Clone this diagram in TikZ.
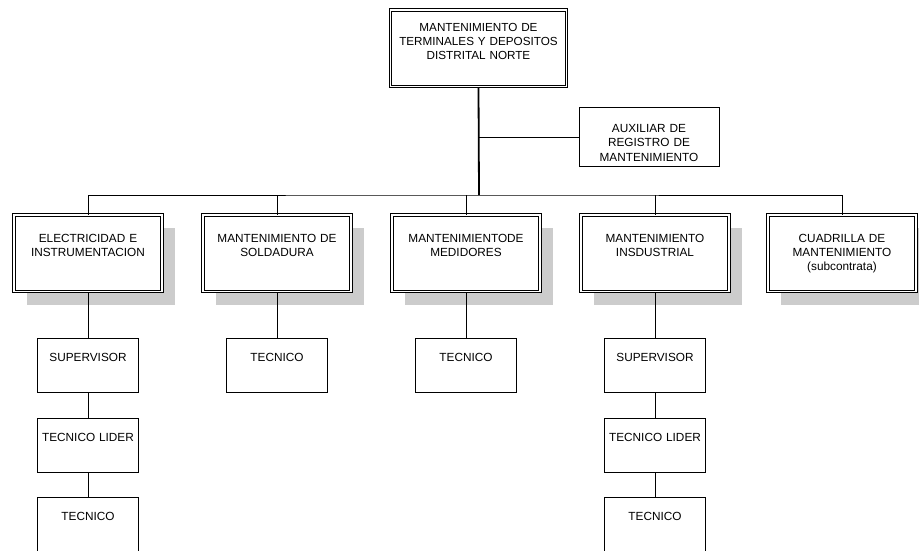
\documentclass[tikz,border=0pt]{standalone}
\usepackage{fontspec}
\setmainfont{Liberation Sans}
\usetikzlibrary{calc, positioning, shadows}

\begin{document}
\begin{tikzpicture}[x=1pt, y=-1pt,
        jefe/.style={draw, line width=1pt, double, double distance=1.2pt, fill=white, inner sep=0pt, anchor=north, align=center},
        area/.style={jefe, text width=148pt, text height=27.5pt, text depth=49pt, font=\fontsize{11.8}{14}\selectfont,
            drop shadow={shadow xshift=13pt, shadow yshift=-13pt, fill=black!20, opacity=1}},
        cargo/.style={draw, line width=0.8pt, fill=white, inner sep=0pt, anchor=north, align=center,
            text width=101pt, text height=23pt, text depth=31pt, font=\fontsize{11.8}{14}\selectfont},
        linea/.style={line width=0.8pt}]
        \useasboundingbox (0,0) rectangle (919,550);
        % cabeza y auxiliar
        \node[jefe, text width=176pt, text height=21.5pt, text depth=55pt, font=\fontsize{11.7}{13.8}\selectfont] (norte) at (478.5,9.5) {MANTENIMIENTO DE\\TERMINALES Y DEPOSITOS\\DISTRITAL NORTE};
        \node[cargo, text width=140pt, text height=25pt, text depth=34pt, font=\fontsize{11.8}{14.5}\selectfont] (aux) at (649,107) {AUXILIAR DE\\REGISTRO DE\\MANTENIMIENTO};
        \coordinate (bus) at (479,195);
        % areas
        \node[area] (elec) at (88,214.5) {ELECTRICIDAD E\\INSTRUMENTACION};
        \node[area] (sold) at (277,214.5) {MANTENIMIENTO DE\\SOLDADURA};
        \node[area] (medi) at (466,214.5) {MANTENIMIENTODE\\MEDIDORES};
        \node[area] (indu) at (655,214.5) {MANTENIMIENTO\\INSDUSTRIAL};
        \node[area] (cuad) at (842,214.5) {CUADRILLA DE\\MANTENIMIENTO\\(subcontrata)};
        % cargos
        \node[cargo] (sup1) at (88,338) {SUPERVISOR};
        \node[cargo] (lid1) at (88,418) {TECNICO LIDER};
        \node[cargo] (tec1) at (88,497) {TECNICO};
        \node[cargo] (tec2) at (277,338) {TECNICO};
        \node[cargo] (tec3) at (466,338) {TECNICO};
        \node[cargo] (sup4) at (655,338) {SUPERVISOR};
        \node[cargo] (lid4) at (655,418) {TECNICO LIDER};
        \node[cargo] (tec4) at (655,497) {TECNICO};
        % lineas
        \draw[line width=1.8pt] (norte.south) -- (bus);
        \draw[linea] (aux.west) -- (aux.west -| norte.south);
        \draw[linea] (elec.north) |- (bus) -| (cuad.north);
        \draw[linea] (sold.north) -- (sold.north |- bus);
        \draw[linea] (medi.north) -- (medi.north |- bus);
        \draw[linea] (indu.north) -- (indu.north |- bus);
        \draw[linea] (elec.south) -- (sup1.north);
        \draw[linea] (sup1.south) -- (lid1.north);
        \draw[linea] (lid1.south) -- (tec1.north);
        \draw[linea] (sold.south) -- (tec2.north);
        \draw[linea] (medi.south) -- (tec3.north);
        \draw[linea] (indu.south) -- (sup4.north);
        \draw[linea] (sup4.south) -- (lid4.north);
        \draw[linea] (lid4.south) -- (tec4.north);
\end{tikzpicture}
\end{document}
